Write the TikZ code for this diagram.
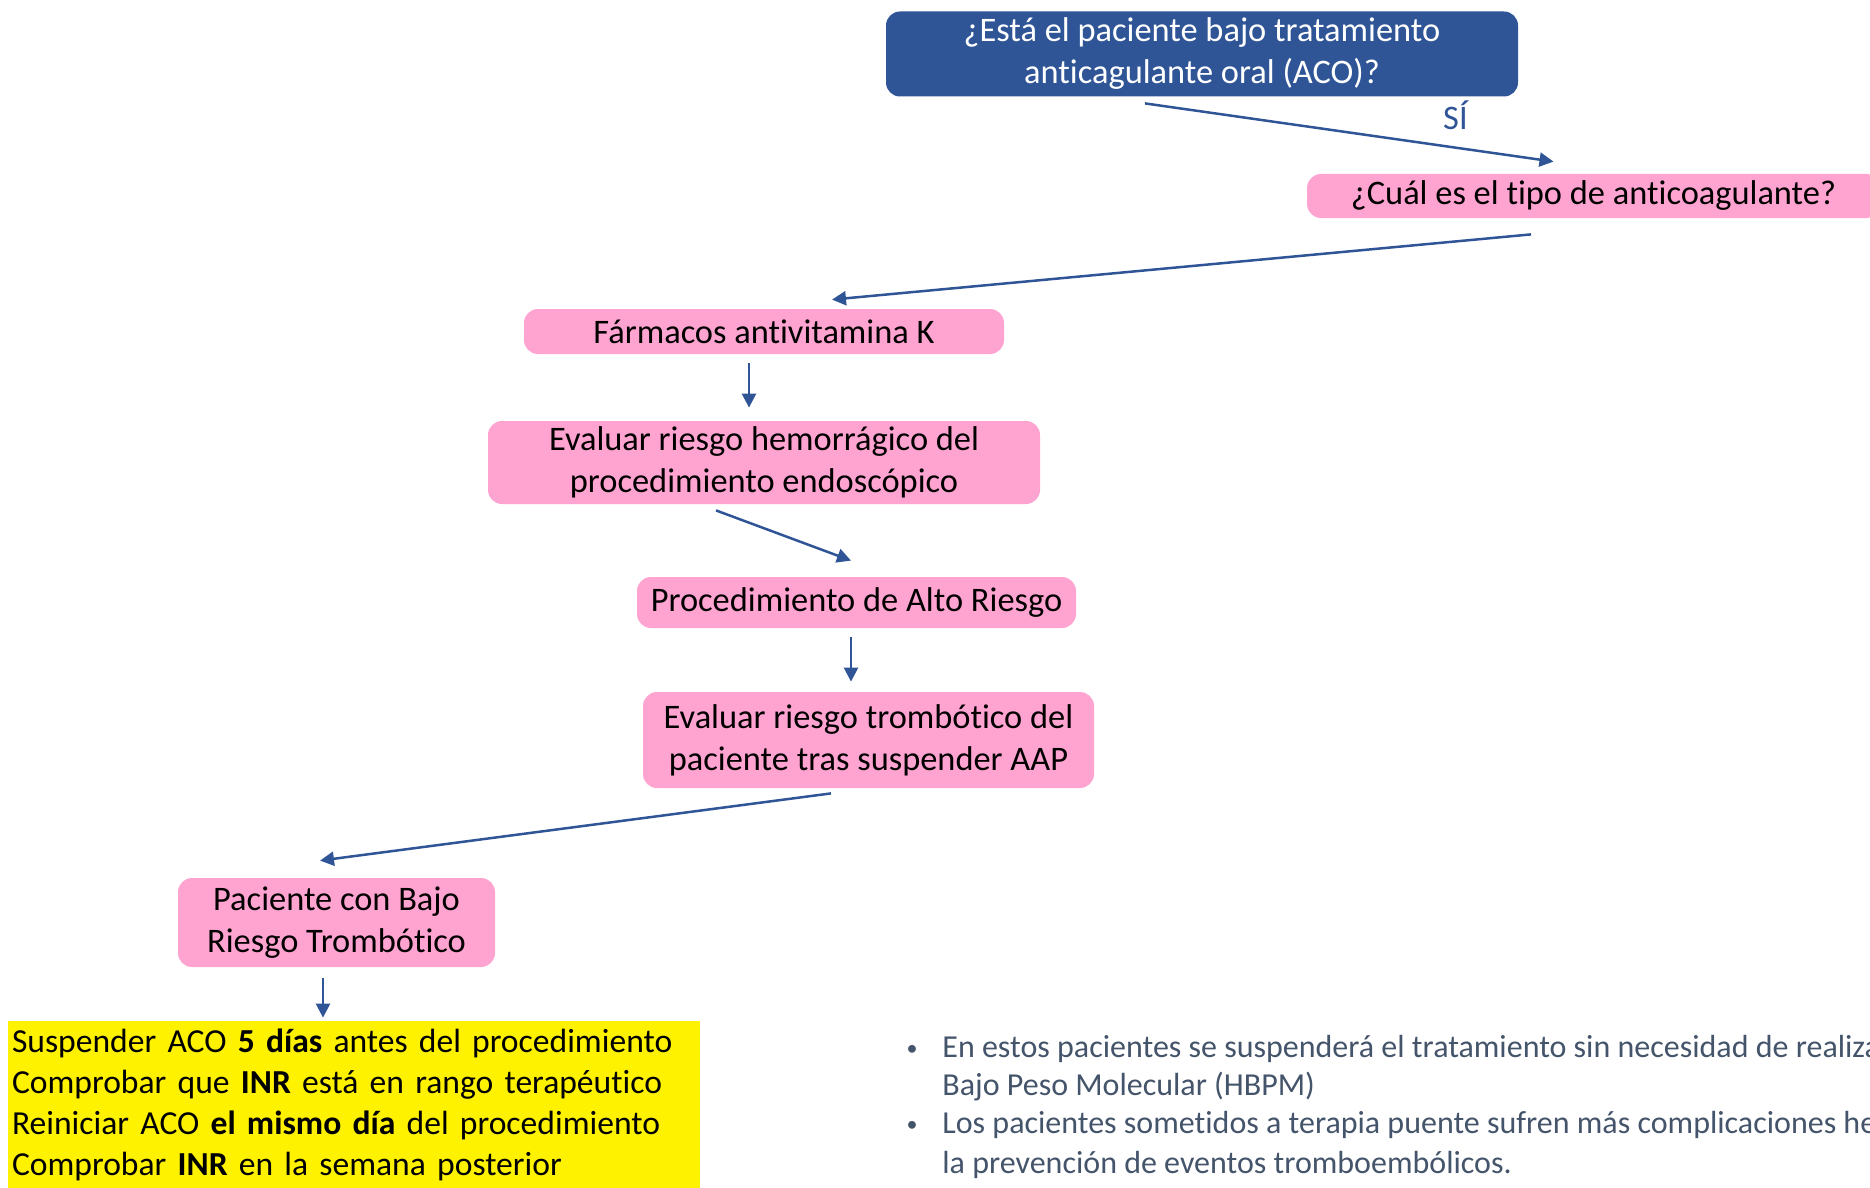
\documentclass[tikz,border=0pt]{standalone}
\usepackage{fontspec}
\setmainfont{Carlito}[Ligatures=NoCommon]
\usetikzlibrary{arrows.meta,calc}

\definecolor{aco}{HTML}{2F5597}
\definecolor{rosa}{HTML}{FFA3D1}
\definecolor{gristexto}{HTML}{44546A}

\tikzset{
  caja/.style={rounded corners=7pt, inner sep=0pt, align=center,
    font=\fontsize{17.2}{21}\selectfont},
  pinkbox/.style={caja, fill=rosa},
  bluebox/.style={caja, fill=aco, text=white},
  flecha/.style={draw=aco, line width=1.25pt, -{Triangle[length=7pt,width=7pt]}},
  nota/.style={inner sep=0pt, text=gristexto, font=\fontsize{16}{19}\selectfont},
  vineta/.style={inner sep=0pt, text=gristexto, font=\fontsize{11}{13}\selectfont},
}

\begin{document}
\begin{tikzpicture}[x=0.5pt,y=-0.5pt]
\useasboundingbox (0,0) rectangle (1870,1188);

% decision boxes
\node[bluebox, minimum width=316pt, minimum height=42.5pt] (q1) at (1202,54)
  {¿Está el paciente bajo tratamiento\\anticagulante oral (ACO)?};
\node[pinkbox, minimum width=286.5pt, minimum height=22pt] (q2) at (1593.5,196)
  {¿Cuál es el tipo de anticoagulante?};
\node[pinkbox, minimum width=240pt, minimum height=22.5pt] (f1) at (764,331.5)
  {Fármacos antivitamina K};
\node[pinkbox, minimum width=276pt, minimum height=41.5pt] (e1) at (764,462.5)
  {Evaluar riesgo hemorrágico del\\procedimiento endoscópico};
\node[pinkbox, minimum width=219.5pt, minimum height=25.5pt] (p1) at (856.5,602.5)
  {Procedimiento de Alto Riesgo};
\node[pinkbox, minimum width=225.5pt, minimum height=48pt] (e2) at (868.5,740)
  {Evaluar riesgo trombótico del\\paciente tras suspender AAP};
\node[pinkbox, minimum width=158.5pt, minimum height=44.5pt] (b1) at (336.5,922.5)
  {Paciente con Bajo\\Riesgo Trombótico};

% recommendations
\node[fill=yellow, inner xsep=2pt, inner ysep=0pt, text width=342pt, minimum height=83.5pt,
  align=left, font=\fontsize{16.8}{20.5}\selectfont] (acc) at (354,1104.5)
  {Suspender ACO \textbf{5 días} antes del procedimiento\\
   Comprobar que \textbf{INR} está en rango terapéutico\\
   Reiniciar ACO \textbf{el mismo día} del procedimiento\\
   Comprobar \textbf{INR} en la semana posterior};

% notes
\node[vineta, anchor=base] (v1) at (912,1055) {•};
\node[vineta, anchor=base] (v2) at (912,1131) {•};
\node[nota, anchor=base west] (n1) at (942,1057)
  {En estos pacientes se suspenderá el tratamiento sin necesidad de realiza};
\node[nota, anchor=base west] (n2) at (942,1095) {Bajo Peso Molecular (HBPM)};
\node[nota, anchor=base west] (n3) at (942,1133)
  {Los pacientes sometidos a terapia puente sufren más complicaciones he};
\node[nota, anchor=base west] (n4) at (942,1173) {la prevención de eventos tromboembólicos.};

% connectors
\draw[flecha] ($(q1.south)+(-57,6.5)$) --
  node[pos=0.76, yshift=16pt, inner sep=0pt, text=aco, font=\fontsize{17.2}{21}\selectfont] (si) {SÍ}
  ($(q2.north)+(-40,-12)$);
\draw[flecha] ($(q2.south)+(-62.5,16)$) -- ($(f1.north)+(68,-9)$);
\draw[flecha] ($(f1.south)+(-15,9)$) -- ($(e1.north)+(-15,-13)$);
\draw[flecha] ($(e1.south)+(-48,6)$) -- ($(p1.north)+(-5.5,-16)$);
\draw[flecha] ($(p1.south)+(-5.5,9)$) -- ($(e2.north)+(-17.5,-10)$);
\draw[flecha] ($(e2.south)+(-37.5,5)$) -- ($(b1.north)+(-16.5,-17)$);
\draw[flecha] ($(b1.south)+(-13.5,11)$) -- ($(acc.north)+(-31,-3)$);
\end{tikzpicture}
\end{document}
